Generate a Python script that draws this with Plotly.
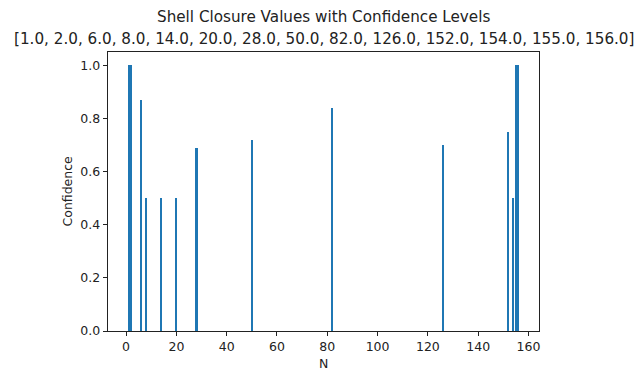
import plotly.graph_objects as go

N = [1.0, 2.0, 6.0, 8.0, 14.0, 20.0, 28.0, 50.0, 82.0, 126.0, 152.0, 154.0, 155.0, 156.0]
confidence = [1.0, 1.0, 0.87, 0.5, 0.5, 0.5, 0.69, 0.72, 0.84, 0.70, 0.75, 0.5, 1.0, 1.0]
x_ticks = [0, 20, 40, 60, 80, 100, 120, 140, 160]
y_ticks = [0.0, 0.2, 0.4, 0.6, 0.8, 1.0]

title_line1 = "Shell Closure Values with Confidence Levels"
title_line2 = "[" + ", ".join(f"{v:.1f}" for v in N) + "]"

fig = go.Figure(go.Bar(x=N, y=confidence, width=0.8,
                       marker=dict(color="#1f77b4", line=dict(width=0))))

span = max(N) + 0.4 - (min(N) - 0.4)
xr = [min(N) - 0.4 - 0.05 * span, max(N) + 0.4 + 0.05 * span]

font_small = dict(family="DejaVu Sans", size=12.5, color="#222222")
font_title = dict(family="DejaVu Sans", size=15.2, color="#222222")

axis_common = dict(showline=True, linecolor="#222222", linewidth=1, mirror=True,
                   ticks="outside", ticklen=4.4, tickwidth=1, tickcolor="#222222",
                   showgrid=False, zeroline=False, automargin=False,
                   tickfont=font_small)

plot_left, plot_right = 108, 539
plot_top, plot_bottom = 52, 331
def py(pix):
    return (plot_bottom - pix) / (plot_bottom - plot_top)
def px(pix):
    return (pix - plot_left) / (plot_right - plot_left)

fig.update_layout(
    width=638, height=371,
    margin=dict(l=plot_left, r=638 - plot_right, t=plot_top, b=371 - plot_bottom),
    plot_bgcolor="white", paper_bgcolor="white",
    font=font_small,
    xaxis=dict(range=xr, tickvals=x_ticks, ticktext=[str(v) for v in x_ticks], **axis_common),
    yaxis=dict(range=[0, 1.05], tickvals=y_ticks, ticktext=[f"{v:.1f}" for v in y_ticks], **axis_common),
    bargap=0,
    showlegend=False,
    annotations=[
        dict(text=title_line1, x=0.5, xref="paper", y=py(17), yref="paper",
             xanchor="center", yanchor="middle", showarrow=False, font=font_title),
        dict(text=title_line2, x=0.5, xref="paper", y=py(39), yref="paper",
             xanchor="center", yanchor="middle", showarrow=False, font=font_title),
        dict(text="N", x=0.5, xref="paper", y=py(364), yref="paper",
             xanchor="center", yanchor="middle", showarrow=False, font=font_small),
        dict(text="Confidence", x=px(67), xref="paper", y=0.5, yref="paper",
             xanchor="center", yanchor="middle", showarrow=False, textangle=-90,
             font=font_small),
    ],
)

fig.write_html("out.html")
